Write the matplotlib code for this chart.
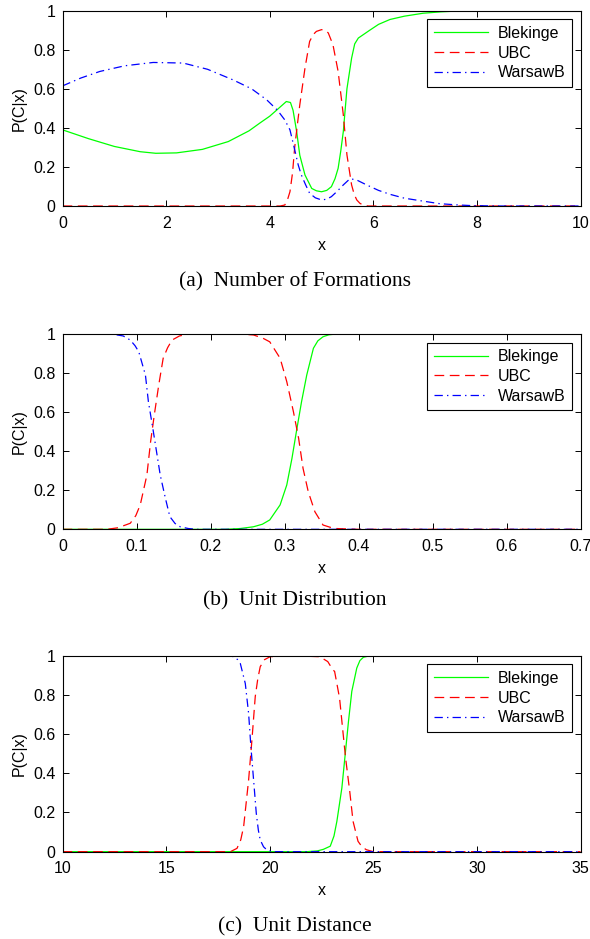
import matplotlib
matplotlib.use("Agg")
import matplotlib.pyplot as plt

plt.rcParams['font.family'] = ['Liberation Sans', 'DejaVu Sans']
plt.rcParams['lines.scale_dashes'] = False

# (a) Number of Formations
a_green_x = [0, 0.5, 1.0, 1.5, 1.8, 2.2, 2.7, 3.2, 3.6, 3.81, 4.0, 4.15, 4.32, 4.40, 4.45, 4.52, 4.58, 4.68,
             4.81, 4.90, 5.0, 5.10, 5.19, 5.26, 5.32, 5.37, 5.42, 5.49, 5.58, 5.64, 5.71, 5.82, 5.93, 6.1,
             6.32, 6.6, 6.96, 7.3, 7.6, 7.93, 8.5, 10]
a_green_y = [0.39, 0.345, 0.305, 0.278, 0.27, 0.272, 0.29, 0.33, 0.385, 0.425, 0.46, 0.495, 0.535, 0.53,
             0.49, 0.38, 0.26, 0.159, 0.09, 0.078, 0.073, 0.08, 0.099, 0.14, 0.193, 0.28, 0.381, 0.6, 0.757,
             0.83, 0.86, 0.88, 0.9, 0.93, 0.955, 0.972, 0.987, 0.994, 0.998, 1.0, 1.0, 1.0]
a_red_x = [0, 4.2, 4.29, 4.34, 4.39, 4.44, 4.48, 4.53, 4.58, 4.68, 4.77, 4.84, 4.9, 5.0, 5.07, 5.13, 5.22,
           5.32, 5.42, 5.49, 5.58, 5.63, 5.68, 5.74, 5.8, 5.9, 10]
a_red_y = [0, 0.0, 0.005, 0.03, 0.073, 0.17, 0.296, 0.41, 0.518, 0.706, 0.843, 0.878, 0.894, 0.903, 0.9,
           0.886, 0.826, 0.689, 0.467, 0.262, 0.108, 0.06, 0.031, 0.014, 0.005, 0.0, 0]
a_blue_x = [0, 0.35, 0.72, 1.2, 1.75, 2.33, 2.8, 3.29, 3.65, 3.94, 4.15, 4.29, 4.39, 4.48, 4.55, 4.61, 4.69,
            4.77, 4.88, 5.0, 5.1, 5.19, 5.3, 5.42, 5.55, 5.68, 5.87, 6.1, 6.32, 6.6, 6.96, 7.28, 7.6, 7.9, 8.5, 10]
a_blue_y = [0.615, 0.655, 0.689, 0.718, 0.735, 0.732, 0.7, 0.646, 0.6, 0.544, 0.49, 0.441, 0.39, 0.29,
            0.21, 0.159, 0.11, 0.065, 0.042, 0.031, 0.035, 0.048, 0.075, 0.108, 0.14, 0.133, 0.108, 0.08,
            0.06, 0.04, 0.025, 0.012, 0.006, 0.002, 0, 0]

# (b) Unit Distribution
b_green_x = [0, 0.22, 0.24, 0.258, 0.27, 0.28, 0.294, 0.303, 0.31, 0.316, 0.323, 0.33, 0.339, 0.345, 0.352,
             0.36, 0.37, 0.4, 0.7]
b_green_y = [0, 0.0, 0.004, 0.013, 0.026, 0.048, 0.125, 0.227, 0.363, 0.5, 0.654, 0.79, 0.927, 0.965,
             0.986, 0.996, 1.0, 1.0, 1.0]
b_red_x = [0, 0.06, 0.075, 0.0915, 0.099, 0.105, 0.114, 0.119, 0.124, 0.13, 0.136, 0.142, 0.148, 0.158,
           0.168, 0.2, 0.24, 0.258, 0.27, 0.28, 0.294, 0.303, 0.312, 0.319, 0.325, 0.332, 0.341, 0.352,
           0.362, 0.37, 0.4, 0.7]
b_red_y = [0, 0.0, 0.008, 0.031, 0.07, 0.125, 0.278, 0.449, 0.586, 0.739, 0.876, 0.93, 0.969, 0.99,
           0.998, 1.0, 1.0, 0.995, 0.98, 0.96, 0.876, 0.756, 0.602, 0.466, 0.312, 0.193, 0.09, 0.022, 0.01,
           0.004, 0, 0]
b_blue_x = [0, 0.05, 0.069, 0.082, 0.0915, 0.098, 0.103, 0.112, 0.116, 0.122, 0.127, 0.132, 0.139, 0.145,
            0.152, 0.159, 0.17, 0.181, 0.2, 0.7]
b_blue_y = [1.0, 1.0, 0.998, 0.99, 0.969, 0.94, 0.909, 0.79, 0.654, 0.517, 0.398, 0.278, 0.159, 0.065,
            0.03, 0.013, 0.004, 0.0, 0, 0]

# (c) Unit Distance
c_green_x = [10, 21.8, 22.3, 22.59, 22.92, 23.1, 23.24, 23.48, 23.64, 23.8, 23.96, 24.2, 24.35, 24.52,
             24.84, 25.5, 35]
c_green_y = [0, 0.0, 0.004, 0.012, 0.028, 0.08, 0.155, 0.325, 0.495, 0.665, 0.818, 0.937, 0.975, 0.992,
             1.0, 1.0, 1.0]
c_red_x = [10, 18.1, 18.42, 18.6, 18.74, 18.98, 19.14, 19.3, 19.42, 19.54, 19.75, 20.02, 21.0, 22.41,
           22.8, 23.05, 23.13, 23.37, 23.53, 23.66, 23.86, 24.02, 24.26, 24.45, 24.66, 25.0, 35]
c_red_y = [0, 0.0, 0.017, 0.06, 0.128, 0.366, 0.57, 0.791, 0.88, 0.944, 0.98, 0.995, 1.0, 0.995, 0.97,
           0.927, 0.92, 0.783, 0.614, 0.478, 0.308, 0.155, 0.053, 0.025, 0.01, 0.0, 0]
c_blue_x = [10, 18.0, 18.26, 18.45, 18.58, 18.82, 18.98, 19.09, 19.22, 19.35, 19.45, 19.54, 19.7, 19.86,
            20.1, 35]
c_blue_y = [1.0, 1.0, 0.995, 0.98, 0.96, 0.858, 0.705, 0.536, 0.366, 0.196, 0.11, 0.06, 0.025, 0.009, 0, 0]

series_names = ['Blekinge', 'UBC', 'WarsawB']
captions = ['(a)  Number of Formations', '(b)  Unit Distribution', '(c)  Unit Distance']
panels = [
    (a_green_x, a_green_y, a_red_x, a_red_y, a_blue_x, a_blue_y),
    (b_green_x, b_green_y, b_red_x, b_red_y, b_blue_x, b_blue_y),
    (c_green_x, c_green_y, c_red_x, c_red_y, c_blue_x, c_blue_y),
]
x_limits = [(0, 10), (0, 0.7), (10, 35)]
x_ticks = [[0, 2, 4, 6, 8, 10],
           [0, 0.1, 0.2, 0.3, 0.4, 0.5, 0.6, 0.7],
           [10, 15, 20, 25, 30, 35]]
x_ticklabels = [['0', '2', '4', '6', '8', '10'],
                ['0', '0.1', '0.2', '0.3', '0.4', '0.5', '0.6', '0.7'],
                ['10', '15', '20', '25', '30', '35']]
y_ticks = [0, 0.2, 0.4, 0.6, 0.8, 1]
y_ticklabels = ['0', '0.2', '0.4', '0.6', '0.8', '1']

fig = plt.figure(figsize=(5.9, 9.39), dpi=100)

# axes boxes in figure fractions (left, bottom, width, height)
boxes = [(0.106, 0.7806, 0.878, 0.208),
         (0.106, 0.4363, 0.878, 0.208),
         (0.106, 0.0930, 0.878, 0.2087)]
caption_y = [0.6997, 0.3605, 0.0128]

for i in range(3):
    ax = fig.add_axes(boxes[i])
    gx, gy, rx, ry, bx, by = panels[i]
    ax.plot(gx, gy, color='#00ff00', lw=0.9, label=series_names[0])
    ax.plot(rx, ry, color='#ff0000', lw=0.9, dashes=(7, 4), label=series_names[1])
    ax.plot(bx, by, color='#0000ff', lw=0.9, dashes=(6, 3, 1, 3), label=series_names[2])
    ax.set_xlim(x_limits[i])
    ax.set_ylim(0, 1)
    ax.set_xticks(x_ticks[i])
    ax.set_xticklabels(x_ticklabels[i])
    ax.set_yticks(y_ticks)
    ax.set_yticklabels(y_ticklabels)
    ax.tick_params(direction='in', top=True, right=True, length=4, width=0.7,
                   labelsize=11.5, pad=7)
    ax.tick_params(axis='y', pad=5)
    for s in ax.spines.values():
        s.set_linewidth(0.8)
    ax.set_xlabel('x', fontsize=11.5, labelpad=5)
    ax.set_ylabel('P(C|x)', fontsize=11.5, labelpad=5)
    leg = ax.legend(loc='upper right', fontsize=11.5, frameon=True, fancybox=False,
                    edgecolor='black', framealpha=1, handlelength=3.4, borderaxespad=0.55,
                    labelspacing=0.3, borderpad=0.4, handletextpad=0.6)
    leg.get_frame().set_linewidth(0.8)
    fig.text(0.5, caption_y[i], captions[i], ha='center', va='center',
             fontsize=15.5, family=['Liberation Serif', 'DejaVu Serif'])

fig.savefig('out.png', dpi=100)
